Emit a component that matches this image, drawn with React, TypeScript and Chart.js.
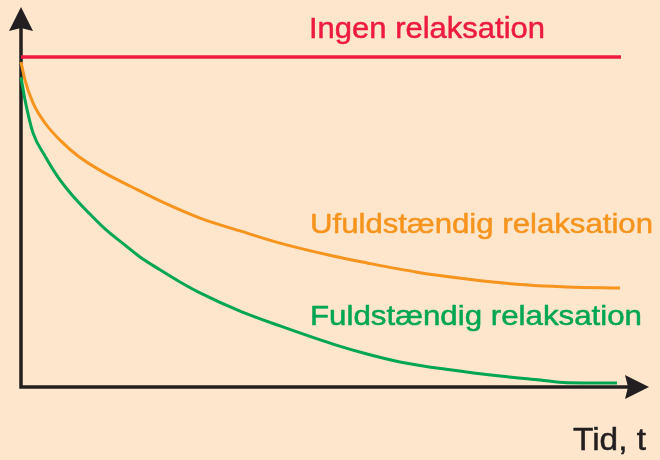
import React, { useEffect, useRef } from "react";
import { Chart, registerables } from "chart.js";

Chart.register(...registerables);

// Time values (arbitrary units) and relative stress values
const redTimes = [0, 600];
const redValues = [100, 100];

const orangeTimes = [0, 4, 12, 24, 39, 57, 84, 111, 139, 179, 219, 259, 312, 346, 396, 446, 492, 546, 599];
const orangeValues = [98.5, 93.0, 86.1, 80.0, 74.8, 70.0, 64.8, 60.6, 56.4, 51.2, 47.3, 43.6, 39.7, 37.6, 34.8, 32.7, 31.2, 30.3, 30.0];

const greenTimes = [0, 4, 12, 24, 37, 51, 67, 84, 104, 119, 139, 159, 179, 219, 259, 312, 346, 379, 429, 479, 519, 546, 596];
const greenValues = [93.9, 87.0, 77.0, 70.0, 63.6, 58.2, 53.0, 47.9, 43.0, 39.4, 35.5, 31.8, 28.5, 23.0, 18.5, 13.0, 10.0, 7.6, 5.2, 3.3, 2.1, 1.3, 1.2];

const seriesLabels = ["Ingen relaksation", "Ufuldstændig relaksation", "Fuldstændig relaksation"];
const axisLabel = "Tid, t";

const BG = "#FDE6CC";
const RED = "#EE1B3F";
const ORANGE = "#F7941D";
const GREEN = "#00A651";
const BLACK = "#231F20";

const toPoints = (xs: number[], ys: number[]) => xs.map((x, i) => ({ x, y: ys[i] }));

function drawFitted(ctx: CanvasRenderingContext2D, text: string, x: number, y: number, width: number, size: number, color: string) {
  ctx.save();
  ctx.font = `${size}px "Liberation Sans", Arial, sans-serif`;
  ctx.fillStyle = color;
  ctx.strokeStyle = color;
  ctx.lineWidth = 0.5;
  ctx.lineJoin = "round";
  ctx.textBaseline = "alphabetic";
  ctx.textAlign = "left";
  const w = ctx.measureText(text).width;
  ctx.translate(x, y);
  ctx.scale(width / w, 1);
  ctx.fillText(text, 0, 0);
  ctx.strokeText(text, 0, 0);
  ctx.restore();
}

const decorPlugin = {
  id: "decor",
  beforeDraw(chart: any) {
    const ctx = chart.ctx as CanvasRenderingContext2D;
    ctx.save();
    ctx.fillStyle = BG;
    ctx.fillRect(0, 0, chart.width, chart.height);
    ctx.restore();
  },
  beforeDatasetsDraw(chart: any) {
    const ctx = chart.ctx as CanvasRenderingContext2D;
    const { left, right, top, bottom } = chart.chartArea;
    const yTip = top - 50;
    const xTip = right + 28;
    ctx.save();
    ctx.strokeStyle = BLACK;
    ctx.fillStyle = BLACK;
    ctx.lineWidth = 3.5;
    ctx.beginPath();
    ctx.moveTo(left, yTip + 18);
    ctx.lineTo(left, bottom);
    ctx.lineTo(xTip - 18, bottom);
    ctx.stroke();
    // y arrow
    ctx.beginPath();
    ctx.moveTo(left, yTip);
    ctx.lineTo(left + 12, yTip + 24);
    ctx.lineTo(left, yTip + 21);
    ctx.lineTo(left - 12, yTip + 24);
    ctx.closePath();
    ctx.fill();
    // x arrow
    ctx.beginPath();
    ctx.moveTo(xTip, bottom);
    ctx.lineTo(xTip - 24, bottom - 12);
    ctx.lineTo(xTip - 21, bottom);
    ctx.lineTo(xTip - 24, bottom + 12);
    ctx.closePath();
    ctx.fill();
    ctx.restore();
  },
  afterDraw(chart: any) {
    const ctx = chart.ctx as CanvasRenderingContext2D;
    drawFitted(ctx, seriesLabels[0], 309, 38, 236, 30, RED);
    drawFitted(ctx, seriesLabels[1], 310, 233, 343, 28, ORANGE);
    drawFitted(ctx, seriesLabels[2], 310, 325, 332, 28, GREEN);
    drawFitted(ctx, axisLabel, 573, 450, 73, 31, BLACK);
  },
};

export default function App() {
  const ref = useRef<HTMLCanvasElement>(null);
  useEffect(() => {
    if (!ref.current) return;
    const chart = new Chart(ref.current, {
      type: "line",
      data: {
        datasets: [
          { label: seriesLabels[0], data: toPoints(redTimes, redValues), borderColor: RED, borderWidth: 3.5, pointRadius: 0, clip: false as any, tension: 0 },
          { label: seriesLabels[1], data: toPoints(orangeTimes, orangeValues), borderColor: ORANGE, borderWidth: 3, pointRadius: 0, clip: false as any, cubicInterpolationMode: "monotone" },
          { label: seriesLabels[2], data: toPoints(greenTimes, greenValues), borderColor: GREEN, borderWidth: 3, pointRadius: 0, clip: false as any, cubicInterpolationMode: "monotone" },
        ],
      },
      options: {
        animation: false,
        responsive: false,
        layout: { padding: { left: 21, right: 39, top: 57, bottom: 73 } },
        scales: {
          x: { type: "linear", min: 0, max: 600, display: false },
          y: { type: "linear", min: 0, max: 100, display: false },
        },
        plugins: { legend: { display: false }, tooltip: { enabled: false }, title: { display: false } },
      },
      plugins: [decorPlugin],
    });
    return () => chart.destroy();
  }, []);
  return (
    <div style={{ position: "absolute", left: 0, top: 0, width: 660, height: 460 }}>
      <canvas ref={ref} width={660} height={460} style={{ display: "block", width: 660, height: 460 }} />
    </div>
  );
}
